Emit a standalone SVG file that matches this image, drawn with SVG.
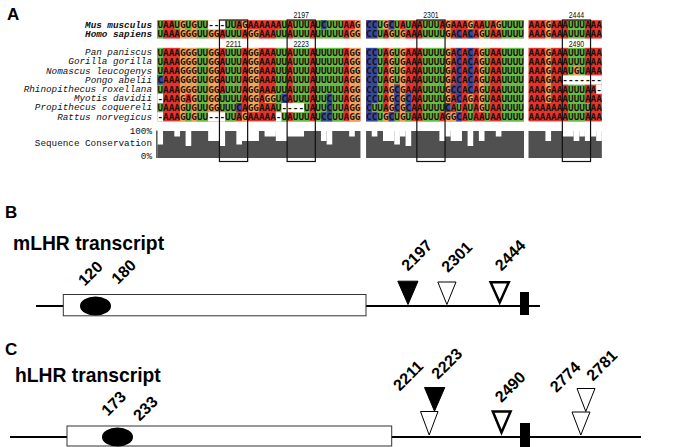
<svg xmlns="http://www.w3.org/2000/svg" width="675" height="447" viewBox="0 0 675 447">
<style>
.A{fill:#e5322c}.U{fill:#68bb46}.G{fill:#f3a45c}.C{fill:#34489e}.W{fill:#fff}
.seq{font-family:"DejaVu Sans Mono",monospace;font-weight:bold;font-size:9.37px;fill:#1a1208}
.sp{font-family:"Liberation Mono","Courier New",monospace;font-style:italic;font-size:9.3px;fill:#111;text-anchor:end}
.spb{font-weight:bold}
.ax{font-family:"Liberation Mono","Courier New",monospace;font-size:9.3px;fill:#111;text-anchor:end}
.pos{font-family:"Liberation Sans",Arial,sans-serif;font-size:9.5px;fill:#111;text-anchor:middle}
.box{fill:none;stroke:#111;stroke-width:1.2}
.hd{font-family:"Liberation Sans",Arial,sans-serif;font-weight:bold;fill:#000}
.lbl{font-family:"Liberation Sans",Arial,sans-serif;font-weight:bold;font-size:16px;fill:#000}
.tline{stroke:#000;stroke-width:1.8;fill:none}
.exon{fill:#fff;stroke:#333;stroke-width:1}
.fill{fill:#000;stroke:#000;stroke-width:1}
.open{fill:#fff;stroke:#000;stroke-width:1}
.thick{fill:#fff;stroke:#000;stroke-width:2.5}
</style>

<g id="panel-a">
<text class="hd" x="7" y="19.5" font-size="17">A</text>

<g id="alignment-cells" transform="translate(157.4,20.2) scale(5.64,9.2)">
<rect class="A" x="0" y="0" width="36" height="11"/>
<rect class="A" x="37" y="0" width="28" height="11"/>
<rect class="A" x="65.8" y="0" width="13" height="11"/>
<!-- block 1 -->
<rect class="G" x="4" y="0" width="1" height="11"/>
<rect class="G" x="5" y="1" width="1" height="7"/>
<rect class="G" x="6" y="0" width="1" height="11"/>
<rect class="G" x="9" y="0" width="2" height="11"/>
<rect class="G" x="15" y="0" width="1" height="1"/>
<rect class="G" x="15" y="10" width="1" height="1"/>
<rect class="G" x="16" y="1" width="2" height="9"/>
<rect class="G" x="19" y="8" width="2" height="1"/>
<rect class="G" x="34" y="1" width="1" height="10"/>
<rect class="G" x="35" y="0" width="1" height="11"/>
<rect class="U" x="0" y="0" width="1" height="10"/>
<rect class="U" x="3" y="0" width="1" height="1"/>
<rect class="U" x="5" y="0" width="1" height="1"/>
<rect class="U" x="5" y="9" width="1" height="2"/>
<rect class="U" x="7" y="0" width="2" height="11"/>
<rect class="U" x="11" y="8" width="1" height="2"/>
<rect class="U" x="12" y="0" width="2" height="11"/>
<rect class="U" x="14" y="1" width="1" height="8"/>
<rect class="U" x="21" y="1" width="1" height="9"/>
<rect class="U" x="22" y="0" width="1" height="11"/>
<rect class="U" x="24" y="0" width="3" height="11"/>
<rect class="U" x="28" y="0" width="5" height="11"/>
<rect class="C" x="0" y="6" width="1" height="1"/>
<rect class="C" x="14" y="9" width="1" height="1"/>
<rect class="C" x="22" y="8" width="1" height="1"/>
<rect class="C" x="29" y="0" width="1" height="1"/>
<rect class="C" x="29" y="10" width="1" height="1"/>
<rect class="C" x="30" y="8" width="1" height="3"/>
<rect class="W" x="0" y="8" width="1" height="1"/>
<rect class="W" x="0" y="10" width="1" height="1"/>
<rect class="W" x="9" y="0" width="3" height="1"/>
<rect class="W" x="9" y="10" width="3" height="1"/>
<rect class="W" x="21" y="10" width="1" height="1"/>
<rect class="W" x="22" y="9" width="4" height="1"/>
<!-- block 2 -->
<rect class="G" x="40" y="0" width="1" height="1"/>
<rect class="G" x="40" y="10" width="1" height="1"/>
<rect class="G" x="41" y="1" width="1" height="9"/>
<rect class="G" x="43" y="1" width="1" height="10"/>
<rect class="G" x="51" y="0" width="1" height="11"/>
<rect class="G" x="52" y="10" width="1" height="1"/>
<rect class="G" x="55" y="0" width="1" height="1"/>
<rect class="G" x="55" y="8" width="1" height="1"/>
<rect class="G" x="57" y="1" width="1" height="9"/>
<rect class="G" x="60" y="0" width="1" height="1"/>
<rect class="U" x="38" y="9" width="1" height="1"/>
<rect class="U" x="39" y="0" width="1" height="11"/>
<rect class="U" x="42" y="0" width="1" height="7"/>
<rect class="U" x="42" y="10" width="1" height="1"/>
<rect class="U" x="44" y="0" width="1" height="1"/>
<rect class="U" x="44" y="10" width="1" height="1"/>
<rect class="U" x="47" y="0" width="3" height="11"/>
<rect class="U" x="50" y="1" width="1" height="9"/>
<rect class="U" x="53" y="9" width="1" height="1"/>
<rect class="U" x="55" y="9" width="1" height="2"/>
<rect class="U" x="58" y="0" width="1" height="11"/>
<rect class="U" x="61" y="0" width="4" height="11"/>
<rect class="C" x="37" y="0" width="1" height="11"/>
<rect class="C" x="38" y="0" width="1" height="9"/>
<rect class="C" x="38" y="10" width="1" height="1"/>
<rect class="C" x="41" y="0" width="1" height="1"/>
<rect class="C" x="41" y="10" width="1" height="1"/>
<rect class="C" x="42" y="7" width="1" height="3"/>
<rect class="C" x="44" y="8" width="1" height="2"/>
<rect class="C" x="51" y="9" width="1" height="1"/>
<rect class="C" x="52" y="7" width="1" height="1"/>
<rect class="C" x="53" y="1" width="1" height="8"/>
<rect class="C" x="53" y="10" width="1" height="1"/>
<rect class="C" x="55" y="1" width="1" height="7"/>
<!-- block 3 -->
<rect class="G" x="68.8" y="0" width="1" height="9"/>
<rect class="U" x="72.8" y="0" width="3" height="11"/>
<rect class="G" x="73.8" y="5" width="1" height="1"/>
<rect class="U" x="75.8" y="9" width="1" height="1"/>
<rect class="W" x="71.8" y="6" width="7" height="1"/>
<rect class="W" x="77.8" y="7" width="1" height="1"/>
<!-- white band -->
<rect class="W" x="-1" y="2" width="81" height="1"/>
</g>

<g id="alignment-letters">
<text class="seq" x="157.4" y="28.2" textLength="203.04" lengthAdjust="spacing">UAAUGUGUU---UUAGAAAAAAUAUUUAUCUUUAAG</text>
<text class="seq" x="366.08" y="28.2" textLength="157.92" lengthAdjust="spacing">CCUGCUAUAAUUUAGAAAGAAUAGUUUU</text>
<text class="seq" x="528.51" y="28.2" textLength="73.32" lengthAdjust="spacing">AAAGAAAUUUAAA</text>
<text class="seq" x="157.4" y="37.4" textLength="203.04" lengthAdjust="spacing">UAAAGGGUUGGAUUUAGGAAAUUAUUUAUUUUUAGG</text>
<text class="seq" x="366.08" y="37.4" textLength="157.92" lengthAdjust="spacing">CCUAGUGAAAUUUUGACACAGUAAUUUU</text>
<text class="seq" x="528.51" y="37.4" textLength="73.32" lengthAdjust="spacing">AAAGAAAUUUAAA</text>
<text class="seq" x="157.4" y="55.8" textLength="203.04" lengthAdjust="spacing">UAAAGGGUUGGAUUUAGGAAAUUAUUUAUUUUUAGG</text>
<text class="seq" x="366.08" y="55.8" textLength="157.92" lengthAdjust="spacing">CCUAGUGAAAUUUUGACACAGUAAUUUU</text>
<text class="seq" x="528.51" y="55.8" textLength="73.32" lengthAdjust="spacing">AAAGAAAUUUAAA</text>
<text class="seq" x="157.4" y="65" textLength="203.04" lengthAdjust="spacing">UAAAGGGUUGGAUUUAGGAAAUUAUUUAUUUUUAGG</text>
<text class="seq" x="366.08" y="65" textLength="157.92" lengthAdjust="spacing">CCUAGUGAAAUUUUGACACAGUAAUUUU</text>
<text class="seq" x="528.51" y="65" textLength="73.32" lengthAdjust="spacing">AAAGAAAUUUAAA</text>
<text class="seq" x="157.4" y="74.2" textLength="203.04" lengthAdjust="spacing">UAAAGGGUUGGAUUUAGGAAAUUAUUUAUUUUUAGG</text>
<text class="seq" x="366.08" y="74.2" textLength="157.92" lengthAdjust="spacing">CCUAGUGAAAUUUUGACACAGUAAUUUU</text>
<text class="seq" x="528.51" y="74.2" textLength="73.32" lengthAdjust="spacing">AAAGAAAUGUAAA</text>
<text class="seq" x="157.4" y="83.4" textLength="203.04" lengthAdjust="spacing">CAAAGGGUUGGAUUUAGGAAAUUAUUUAUUUUUAGG</text>
<text class="seq" x="366.08" y="83.4" textLength="157.92" lengthAdjust="spacing">CCUAGUGAAAUUUUGACACAGUAAUUUU</text>
<text class="seq" x="528.51" y="83.4" textLength="73.32" lengthAdjust="spacing">AAAGAA-------</text>
<text class="seq" x="157.4" y="92.6" textLength="203.04" lengthAdjust="spacing">UAAAGGGUUGGAUUUAGGAAAUUAUUUAUUUUUAGG</text>
<text class="seq" x="366.08" y="92.6" textLength="157.92" lengthAdjust="spacing">CCUAGCGAAAUUUUGCCACAGUAAUUUU</text>
<text class="seq" x="528.51" y="92.6" textLength="73.32" lengthAdjust="spacing">AAAGAAAUUUAA-</text>
<text class="seq" x="157.4" y="101.8" textLength="203.04" lengthAdjust="spacing">-AAAGAGUUGGUUUUAGGAGGUCAUUUAUUCUUAGG</text>
<text class="seq" x="366.08" y="101.8" textLength="157.92" lengthAdjust="spacing">CCUAGCGCAAUUUUGACAGAGUAAUUUU</text>
<text class="seq" x="528.51" y="101.8" textLength="73.32" lengthAdjust="spacing">AAAGAAAUUUAAA</text>
<text class="seq" x="157.4" y="111" textLength="203.04" lengthAdjust="spacing">UAAAGUGUUGGUUUCAGGAAAU----UAUUCUUAGG</text>
<text class="seq" x="366.08" y="111" textLength="157.92" lengthAdjust="spacing">CUUAGCGCAAUUUUCAUAUAGUAAUUUU</text>
<text class="seq" x="528.51" y="111" textLength="73.32" lengthAdjust="spacing">AAAAAAAUUUUAA</text>
<text class="seq" x="157.4" y="120.2" textLength="203.04" lengthAdjust="spacing">-AAAGUGUU---UUAGAAAAA-UAUUUAUCCUUAGG</text>
<text class="seq" x="366.08" y="120.2" textLength="157.92" lengthAdjust="spacing">CCUGCUGUAAUUUAGGCAUAAUAAUUUU</text>
<text class="seq" x="528.51" y="120.2" textLength="73.32" lengthAdjust="spacing">AAAAAAAUUUAAA</text>
</g>

<g id="species-labels">
<text class="sp spb" x="152" y="27.6">Mus musculus</text>
<text class="sp spb" x="152" y="36.8">Homo sapiens</text>
<text class="sp" x="152" y="55.2">Pan paniscus</text>
<text class="sp" x="152" y="64.4">Gorilla gorilla</text>
<text class="sp" x="152" y="73.6">Nomascus leucogenys</text>
<text class="sp" x="152" y="82.8">Pongo abelii</text>
<text class="sp" x="152" y="92">Rhinopithecus roxellana</text>
<text class="sp" x="152" y="101.2">Myotis davidii</text>
<text class="sp" x="152" y="110.4">Propithecus coquereli</text>
<text class="sp" x="152" y="119.6">Rattus norvegicus</text>
</g>

<g id="conservation">
<text class="ax" x="152" y="133.5">100%</text>
<text class="ax" x="152" y="146.3">Sequence Conservation</text>
<text class="ax" x="152" y="159">0%</text>
<g transform="translate(157.4,0) scale(5.64,1)">
<rect fill="#505050" x="0" y="131" width="36" height="27"/>
<rect fill="#505050" x="37" y="131" width="28" height="27"/>
<rect fill="#505050" x="65.8" y="131" width="13" height="27"/>
<g fill="#fff">
<rect x="0" y="131" width="1" height="13.5"/>
<rect x="3" y="131" width="1" height="5.5"/>
<rect x="5" y="131" width="1" height="15"/>
<rect x="9" y="131" width="2" height="10"/>
<rect x="11" y="131" width="1" height="15"/>
<rect x="14" y="131" width="1" height="13.5"/>
<rect x="15" y="131" width="3" height="10"/>
<rect x="19" y="131" width="2" height="5.5"/>
<rect x="21" y="131" width="2" height="10"/>
<rect x="23" y="131" width="3" height="5.5"/>
<rect x="29" y="131" width="1" height="10"/>
<rect x="30" y="131" width="1" height="13.5"/>
<rect x="34" y="131" width="1" height="5.5"/>
<rect x="38" y="131" width="1" height="5.5"/>
<rect x="40" y="131" width="2" height="10"/>
<rect x="42" y="131" width="1" height="13.5"/>
<rect x="43" y="131" width="1" height="5.5"/>
<rect x="44" y="131" width="1" height="15"/>
<rect x="50" y="131" width="1" height="10"/>
<rect x="51" y="131" width="1" height="5.5"/>
<rect x="52" y="131" width="2" height="10"/>
<rect x="55" y="131" width="1" height="15"/>
<rect x="57" y="131" width="1" height="10"/>
<rect x="60" y="131" width="1" height="5.5"/>
<rect x="68.8" y="131" width="1" height="10"/>
<rect x="71.8" y="131" width="2" height="5.5"/>
<rect x="73.8" y="131" width="1" height="10"/>
<rect x="74.8" y="131" width="1" height="5.5"/>
<rect x="75.8" y="131" width="1" height="10"/>
<rect x="76.8" y="131" width="1" height="5.5"/>
<rect x="77.8" y="131" width="1" height="10"/>
</g>
</g>
<line x1="156.8" y1="130.5" x2="156.8" y2="158" stroke="#222" stroke-width="1"/>
</g>

<g id="site-boxes">
<rect class="box" x="219.44" y="20" width="28.2" height="141.5"/>
<rect class="box" x="287.12" y="20" width="28.2" height="141.5"/>
<rect class="box" x="416.84" y="20" width="28.2" height="141.5"/>
<rect class="box" x="562.35" y="20" width="28.2" height="141.5"/>
<text class="pos" x="301.2" y="18" textLength="15.5" lengthAdjust="spacingAndGlyphs">2197</text>
<text class="pos" x="430.9" y="18" textLength="15.5" lengthAdjust="spacingAndGlyphs">2301</text>
<text class="pos" x="576.4" y="18" textLength="15.5" lengthAdjust="spacingAndGlyphs">2444</text>
<text class="pos" x="233.5" y="46.6" textLength="15.5" lengthAdjust="spacingAndGlyphs">2211</text>
<text class="pos" x="301.2" y="46.6" textLength="15.5" lengthAdjust="spacingAndGlyphs">2223</text>
<text class="pos" x="576.4" y="46.6" textLength="15.5" lengthAdjust="spacingAndGlyphs">2490</text>
</g>
</g>

<g id="connectors">
<line class="tline" x1="36" y1="306" x2="540" y2="306"/>
<line class="tline" x1="10" y1="437" x2="641" y2="437"/>
</g>

<g id="panel-b">
<text class="hd" x="5" y="218" font-size="17">B</text>
<text class="hd" x="13" y="250" font-size="19.3">mLHR transcript</text>
<g id="b-exon"><rect class="exon" x="63.3" y="294.5" width="302.7" height="21.3"/></g>
<g id="b-orf"><ellipse cx="95.5" cy="306" rx="15.5" ry="9.5" fill="#000"/></g>
<g id="b-stop"><rect x="520" y="292" width="9" height="23" fill="#000"/></g>
<g id="b-2197"><polygon class="fill" points="397.8,281.2 418,281.2 408,304.5"/></g>
<g id="b-2301"><polygon class="open" points="437.8,282 456,282 446.9,304.5"/></g>
<g id="b-2444"><polygon class="thick" points="490.6,282.2 508.8,282.2 499.7,302.5"/></g>
<text class="lbl" transform="translate(84.8,286.7) rotate(-45)">120</text>
<text class="lbl" transform="translate(118.1,285) rotate(-45)">180</text>
<text class="lbl" transform="translate(408.1,271.7) rotate(-45)">2197</text>
<text class="lbl" transform="translate(448.1,273.3) rotate(-45)">2301</text>
<text class="lbl" transform="translate(501.4,271.7) rotate(-45)">2444</text>
</g>

<g id="panel-c">
<text class="hd" x="5" y="355" font-size="17">C</text>
<text class="hd" x="15" y="382" font-size="19.3">hLHR transcript</text>
<g id="c-exon"><rect class="exon" x="67" y="426" width="324.7" height="20"/></g>
<g id="c-orf"><ellipse cx="117.5" cy="437" rx="15.5" ry="9.5" fill="#000"/></g>
<g id="c-stop"><rect x="520" y="423" width="10" height="24" fill="#000"/></g>
<g id="c-2211"><polygon class="open" points="420.5,411.5 438,411.5 429.2,435"/></g>
<g id="c-2223"><polygon class="fill" points="424.5,387.5 444.8,387.5 434.5,411.2"/></g>
<g id="c-2490"><polygon class="thick" points="492.8,411.4 510.6,411.4 501.5,432.5"/></g>
<g id="c-2774"><polygon class="open" points="572,412 590,412 580.8,435"/></g>
<g id="c-2781"><polygon class="open" points="577,388.5 595,388.5 585.8,411.5"/></g>
<text class="lbl" transform="translate(108.1,416.7) rotate(-45)">173</text>
<text class="lbl" transform="translate(139.8,421.7) rotate(-45)">233</text>
<text class="lbl" transform="translate(399.8,391.7) rotate(-45)">2211</text>
<text class="lbl" transform="translate(438.1,380) rotate(-45)">2223</text>
<text class="lbl" transform="translate(501.4,403.3) rotate(-45)">2490</text>
<text class="lbl" transform="translate(556.4,393.3) rotate(-45)">2774</text>
<text class="lbl" transform="translate(593.1,381.7) rotate(-45)">2781</text>
</g>
</svg>
